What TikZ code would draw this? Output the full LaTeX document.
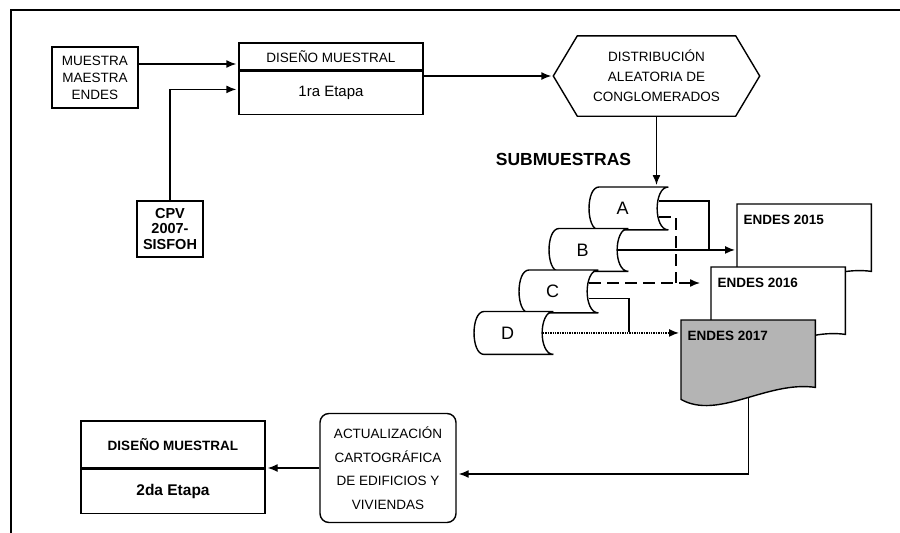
\documentclass[tikz,border=0pt]{standalone}
\usepackage{fontspec}
\setmainfont{Liberation Sans}
\usetikzlibrary{arrows.meta}
\definecolor{docgray}{RGB}{180,180,180}
\tikzset{
  caja/.style={draw, align=center, inner sep=0pt},
  flecha/.style={-{Latex[length=10pt,width=8pt]}, shorten >=2pt},
  rayas/.style={dash pattern=on 12pt off 6pt},
  doctxt/.style={font=\fontsize{13.5}{16}\selectfont\bfseries, inner sep=0pt}
}
\newcommand{\rollo}[4]{%
  \node[minimum width=78pt,minimum height=41.5pt,anchor=north west,inner sep=0pt] (#1) at (#2,#3) {};
  \draw[fill=white] ([xshift=10pt]#1.north west) -- (#1.north east)
    .. controls ([xshift=-15pt]#1.north east) and ([xshift=-15pt]#1.south east) .. (#1.south east)
    -- ([xshift=10pt]#1.south west)
    .. controls ([xshift=-3.3pt]#1.south west) and ([xshift=-3.3pt]#1.north west) .. ([xshift=10pt]#1.north west) -- cycle;
  \node[font=\fontsize{18}{20}\selectfont] (#1t) at ([xshift=-6pt]#1.center) {#4};
}
\newcommand{\hoja}[5]{%
  \node[minimum width=133pt,minimum height=66pt,anchor=north west,inner sep=0pt] (#1) at (#2,#3) {};
  \draw[fill=#4] (#1.north west) -- (#1.north east) -- (#1.south east)
    .. controls ([xshift=-48pt,yshift=7pt]#1.south east) and ([xshift=37pt,yshift=-33pt]#1.south west) .. ([yshift=-12pt]#1.south west) -- cycle;
  \node[doctxt,anchor=west] (#1t) at ([xshift=6pt,yshift=-16pt]#1.north west) {#5};
}
\begin{document}
\begin{tikzpicture}[x=1pt,y=-1pt,line width=1.4pt]
\useasboundingbox (0,0) rectangle (900,533);
\draw[line width=1.8pt] (11,533) -- (11,10) -- (900,10);

\node[caja,minimum width=86,minimum height=61,font=\fontsize{13.5}{17}\selectfont] (mme) at (95,77.5) {MUESTRA\\MAESTRA\\ENDES};
\node[caja,minimum width=184,minimum height=27,font=\fontsize{13.5}{16}\selectfont] (dm1a) at (331,56.5) {DISEÑO MUESTRAL};
\node[caja,minimum width=184,minimum height=43,anchor=north,font=\fontsize{15}{18}\selectfont] (dm1b) at (dm1a.south) {1ra Etapa};
\node[caja,minimum width=66,minimum height=56,font=\fontsize{14.5}{15.5}\selectfont\bfseries] (cpv) at (170,229) {CPV\\2007-\\SISFOH};

\node[align=center,minimum width=205,minimum height=79,font=\fontsize{13.5}{20}\selectfont] (dist) at (656.5,76) {DISTRIBUCIÓN\\ALEATORIA DE\\CONGLOMERADOS};
\draw (dist.west) -- ([xshift=24pt]dist.north west) -- ([xshift=-24pt]dist.north east) -- (dist.east)
  -- ([xshift=-24pt]dist.south east) -- ([xshift=24pt]dist.south west) -- cycle;

\node[font=\fontsize{17.5}{20}\selectfont\bfseries] (subm) at (563.5,159) {SUBMUESTRAS};

\rollo{subA}{589}{187}{A}
\rollo{subB}{549}{228.5}{B}
\rollo{subC}{519}{270}{C}
\rollo{subD}{474}{311.5}{D}

\hoja{e15}{737}{204}{white}{ENDES 2015}
\hoja{e16}{711}{267}{white}{ENDES 2016}
\hoja{e17}{681}{320}{docgray}{ENDES 2017}

\node[caja,minimum width=136,minimum height=109,rounded corners=9pt,font=\fontsize{13.5}{23.5}\selectfont] (act) at (388,468) {ACTUALIZACIÓN\\CARTOGRÁFICA\\DE EDIFICIOS Y\\VIVIENDAS};
\node[caja,minimum width=184,minimum height=47,font=\fontsize{13.5}{16}\selectfont\bfseries] (dm2a) at (173,444.5) {DISEÑO MUESTRAL};
\node[caja,minimum width=184,minimum height=44,anchor=north,font=\fontsize{15.5}{18}\selectfont\bfseries] (dm2b) at (dm2a.south) {2da Etapa};

\coordinate (jA) at (709,249.25);
\coordinate (jAd) at (676,283);
\coordinate (jC) at (629,332.25);

\draw[flecha] ([yshift=13.5pt]mme.east) -- ([yshift=13.5pt]mme.east -| dm1a.west);
\draw[flecha] (cpv.north) |- ([yshift=3.5pt]dm1b.west);
\draw[flecha] (dm1b.east |- dist.west) -- (dist.west);
\draw[flecha] (dist.south) -- (dist.south |- subA.north);

\draw ([xshift=-9pt,yshift=-14pt]subA.north east) -| (jA);
\draw[flecha] ([xshift=-10.5pt]subB.east) -- (subB.east -| e15.west);
\draw[rayas] ([xshift=-9pt,yshift=13pt]subA.south east) -| (jAd);
\draw[flecha,rayas] ([xshift=-9pt,yshift=-13pt]subC.north east) -- ([xshift=-9pt,yshift=-13pt]subC.north east -| e16.west);
\draw ([xshift=-9pt,yshift=14.5pt]subC.south east) -| (jC);
\draw[flecha,densely dotted] ([xshift=-10.5pt]subD.east) -- (subD.east -| e17.west);

\draw[flecha] ([yshift=-10pt]e17.south) |- ([yshift=-6pt]act.east);
\draw[flecha] (act.west) -- (act.west -| dm2a.east);
\end{tikzpicture}
\end{document}
